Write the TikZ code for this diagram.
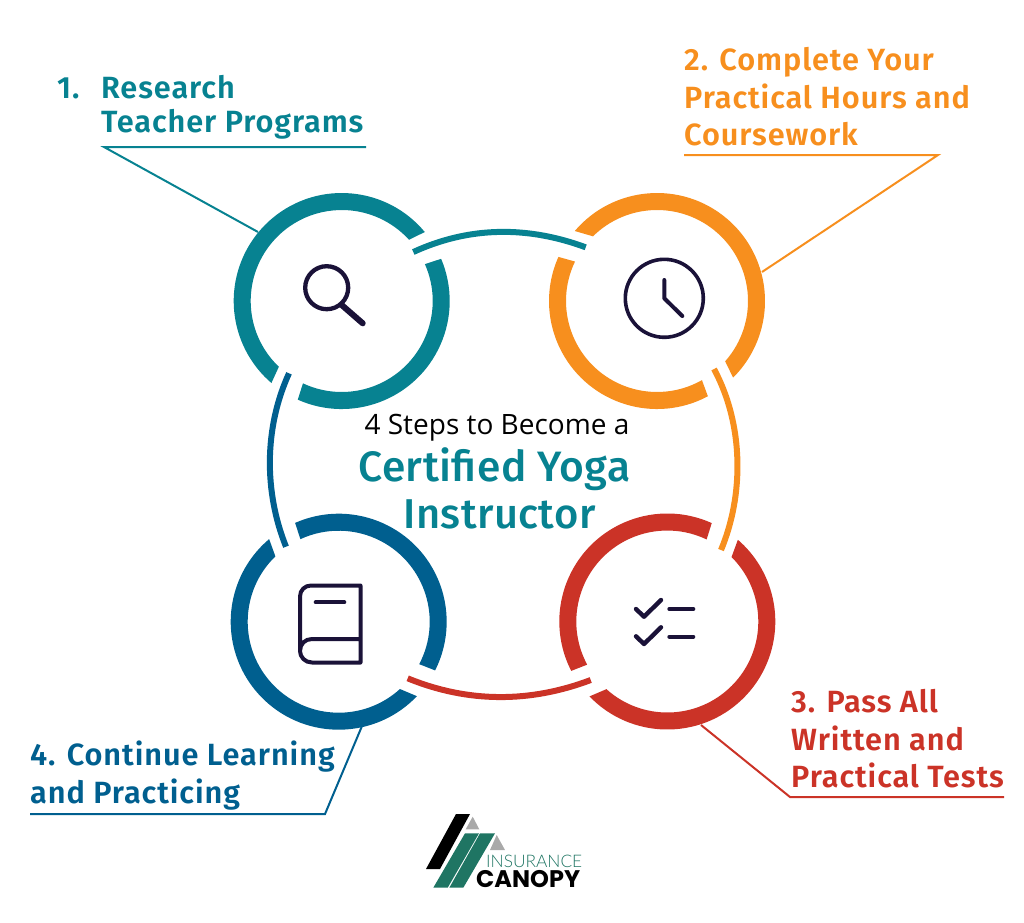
\documentclass[tikz,border=0pt]{standalone}
\usepackage{fontspec}
\setmainfont{Open Sans}
\newfontfamily\headfont[LetterSpace=3.0]{Fira Sans SemiBold}
\newfontfamily\titlefont[LetterSpace=1.0]{Fira Sans Medium}
\newfontfamily\logothin{Lato Light}
\newfontfamily\logoheavy{Poppins Bold}
\definecolor{stepteal}{HTML}{078291}
\definecolor{steporange}{HTML}{F78F1E}
\definecolor{stepred}{HTML}{CB3327}
\definecolor{stepblue}{HTML}{005F8F}
\definecolor{icondark}{HTML}{1A1238}
\definecolor{logogreen}{HTML}{1F7563}
\definecolor{logogray}{HTML}{A9A9A9}
\tikzset{
  leader/.style={line width=2pt},
  link/.style={line width=6pt},
  icon/.style={icondark,line width=4pt,line cap=round,line join=round},
  heading/.style={anchor=base west,inner sep=0pt,font=\headfont\fontsize{30.7}{30.7}\selectfont},
}
% One piece of a ring: colour, centre, outer start/end angle, inner start/end angle
\newcommand\ringpiece[6]{%
  \begin{scope}[shift={(#2)},yscale=-1]
    \fill[#1] (#3:108) arc[start angle=#3,end angle=#4,radius=108]
      -- (#6:91) arc[start angle=#6,end angle=#5,radius=91] -- cycle;
  \end{scope}}
\begin{document}
\begin{tikzpicture}[x=1pt,y=-1pt]
\useasboundingbox (0,0) rectangle (1024,922);

\coordinate (research) at (341.7,301);
\coordinate (hours) at (657,301);
\coordinate (tests) at (667.3,621.5);
\coordinate (learning) at (338.7,621.7);

% Rings
\ringpiece{stepteal}{research}{39.7}{229.4}{42.3}{226.3}
\ringpiece{stepteal}{research}{246}{383}{244.8}{383.9}
\ringpiece{steporange}{hours}{139.6}{-45.2}{134.7}{-41.5}
\ringpiece{steporange}{hours}{-61.9}{-204.1}{-60.4}{-205.7}
\ringpiece{stepred}{tests}{65.7}{207.2}{64.4}{208.3}
\ringpiece{stepred}{tests}{223.9}{409.2}{228}{405.1}
\ringpiece{stepblue}{learning}{113.8}{-26.8}{114.9}{-27.8}
\ringpiece{stepblue}{learning}{-43.6}{-229.9}{-47.7}{-225.9}

% Links between the rings
\coordinate (linkAa) at (413.3,252);
\coordinate (linkAb) at (585.7,247.3);
\coordinate (linkBa) at (714,369);
\coordinate (linkBb) at (721,550);
\coordinate (linkCa) at (590.7,680);
\coordinate (linkCb) at (407.7,678.3);
\coordinate (linkDa) at (286,546.7);
\coordinate (linkDb) at (289,373.3);
\draw[link,stepteal] (linkAa) .. controls (470,226) and (528,226) .. (linkAb);
\draw[link,steporange] (linkBa) .. controls (744,425) and (744,495) .. (linkBb);
\draw[link,stepred] (linkCa) .. controls (530,703) and (468,703) .. (linkCb);
\draw[link,stepblue] (linkDa) .. controls (264,492) and (264,428) .. (linkDb);

% Headings
\node[heading,text=stepteal] (numone) at (57,98) {1.};
\node[heading,text=stepteal] (oneA) at (101,98) {Research};
\node[heading,text=stepteal] (oneB) at (101,132) {Teacher Programs};
\node[heading,text=steporange] (twoA) at (684,70) {2. Complete Your};
\node[heading,text=steporange] (twoB) at (684,108) {Practical Hours and};
\node[heading,text=steporange] (twoC) at (684,145) {Coursework};
\node[heading,text=stepred] (threeA) at (791,712) {3. Pass All};
\node[heading,text=stepred] (threeB) at (791,750) {Written and};
\node[heading,text=stepred] (threeC) at (791,787) {Practical Tests};
\node[heading,text=stepblue] (fourA) at (30,765) {4. Continue Learning};
\node[heading,text=stepblue] (fourB) at (30,803) {and Practicing};

% Leader lines from the headings to the rings
\coordinate (oneL) at (366,147);
\coordinate (oneM) at (104,147);
\coordinate (oneR) at (258,232);
\coordinate (twoL) at (684,155);
\coordinate (twoM) at (938,155);
\coordinate (twoR) at (762,272);
\coordinate (threeL) at (1004,797);
\coordinate (threeM) at (790,797);
\coordinate (threeR) at (701,725);
\coordinate (fourL) at (30,814);
\coordinate (fourM) at (325,814);
\coordinate (fourR) at (362,726);
\draw[leader,stepteal] (oneL) -- (oneM) -- (oneR);
\draw[leader,steporange] (twoL) -- (twoM) -- (twoR);
\draw[leader,stepred] (threeL) -- (threeM) -- (threeR);
\draw[leader,stepblue] (fourL) -- (fourM) -- (fourR);

% Centre title
\node[anchor=base,inner sep=0pt,font=\fontsize{28}{28}\selectfont,text=black] (title) at (497,434) {4 Steps to Become a};
\node[anchor=base,inner sep=0pt,font=\titlefont\fontsize{42.5}{42.5}\selectfont,text=stepteal] (titleA) at (494.5,481) {Certified Yoga};
\node[anchor=base,inner sep=0pt,font=\titlefont\fontsize{41.7}{41.7}\selectfont,text=stepteal] (titleB) at (499.5,528) {Instructor};

% Magnifier
\draw[icon,line width=4.3pt] (326.7,287.7) circle[radius=21.5];
\draw[icon,line width=6pt] (341.7,305) -- (362.7,323.3);
% Clock
\draw[icon,line width=3.6pt] (664.3,298.3) circle[radius=39];
\draw[icon] (664.3,280) -- (664.3,298.3) -- (682.3,316);
% Book
\draw[icon] (300,651) -- (300,596.5) .. controls (300,590) and (305,585.5) .. (311,585.5)
  -- (360.5,585.5) -- (360.5,662.5) -- (312,662.5)
  .. controls (305,662.5) and (300,657) .. (300,651)
  .. controls (300,644) and (305,639) .. (312,639) -- (360.5,639);
\draw[icon] (315.7,602.3) -- (344.3,602.3);
% Checklist
\draw[icon,line width=4.4pt] (636,609) -- (644,616.7) -- (661,600);
\draw[icon,line width=4.4pt] (636,636.3) -- (644,644) -- (661,627.3);
\draw[icon] (669.3,609) -- (693.3,609);
\draw[icon] (669.3,636.7) -- (693.3,636.7);

% Company mark
\fill[black] (456,814) -- (470,814) -- (440,869) -- (426,869) -- cycle;
\fill[logogreen] (465,833.3) -- (479,833.3) -- (447.7,887.7) -- (433.3,887.7) -- cycle;
\fill[logogreen] (480,833.3) -- (495,833.3) -- (463.3,887.7) -- (449.3,887.7) -- cycle;
\fill[logogray] (472.7,816.7) -- (465.7,829.3) -- (479.3,829.3) -- cycle;
\fill[logogray] (496.7,835) -- (490,850) -- (505,850) -- cycle;
\node[anchor=base west,inner sep=0pt,font=\logothin\fontsize{17.3}{17.3}\selectfont,text=logogreen] (brandA) at (486,867.5) {INSURANCE};
\node[anchor=base west,inner sep=0pt,font=\logoheavy\fontsize{24}{24}\selectfont,text=black] (brandB) at (476,887.7) {CANOPY};
\end{tikzpicture}
\end{document}
